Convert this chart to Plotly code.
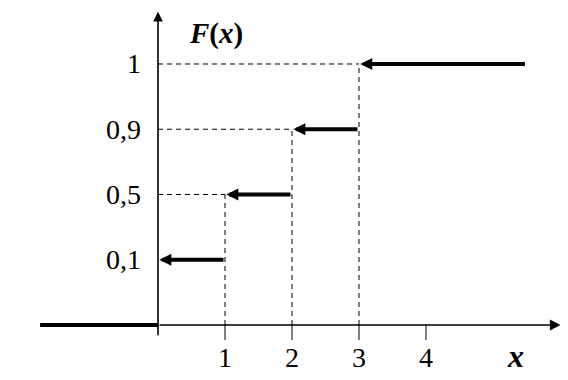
import plotly.graph_objects as go

# ---- data ----
step_left = [0, 1, 2, 3]          # x where each step starts (arrow head)
step_right = [1, 2, 3, 5.5]       # x where each step ends
F_values = [0.1, 0.5, 0.9, 1.0]   # F(x) on each step
zero_left = -1.76                 # F(x)=0 for x<0 drawn from here to 0
x_ticks = [1, 2, 3, 4]
x_tick_labels = ["1", "2", "3", "4"]
y_ticks = [0.1, 0.5, 0.9, 1.0]
y_tick_labels = ["0,1", "0,5", "0,9", "1"]

# the original figure is schematic (levels not to scale): use an ordinal F axis
levels = ["0"] + y_tick_labels
lab = dict(zip([0.0] + y_ticks, levels))
idx = {v: levels.index(lab[v]) for v in [0.0] + y_ticks}

FONT = "Liberation Serif"
DASH = dict(color="black", width=1, dash="5px,4px")
fig = go.Figure()

# dashed guide lines
for xs, fv in zip(step_left[1:], F_values[1:]):
    fig.add_trace(go.Scatter(x=[0, xs], y=[lab[fv], lab[fv]], mode="lines", line=DASH,
                             hoverinfo="skip", showlegend=False))
    fig.add_trace(go.Scatter(x=[xs, xs], y=[lab[0.0], lab[fv]], mode="lines", line=DASH,
                             hoverinfo="skip", showlegend=False))

# F=0 for x<0
fig.add_trace(go.Scatter(x=[zero_left, 0], y=[lab[0.0], lab[0.0]], mode="lines",
                         line=dict(color="black", width=4),
                         hoverinfo="skip", showlegend=False))

shapes = []
# x tick marks below the axis
for xt in x_ticks:
    shapes.append(dict(type="line", xref="x", yref="y", x0=xt, x1=xt,
                       y0=idx[0.0], y1=idx[0.0] - 0.23,
                       line=dict(color="black", width=1)))

annotations = []
# axes with arrows
annotations.append(dict(x=6.01, y=idx[0.0], ax=0, ay=idx[0.0], xref="x", yref="y",
                        axref="x", ayref="y", text="", showarrow=True, arrowhead=2,
                        arrowsize=1.35, arrowwidth=1.6, arrowcolor="black", standoff=0))
annotations.append(dict(x=0, y=4.80, ax=0, ay=idx[0.0] - 0.18, xref="x", yref="y",
                        axref="x", ayref="y", text="", showarrow=True, arrowhead=2,
                        arrowsize=1.2, arrowwidth=1.6, arrowcolor="black", standoff=0))
# steps with arrow heads at their left ends
for xl, xr, fv in zip(step_left, step_right, F_values):
    annotations.append(dict(x=xl + 0.02, y=idx[fv], ax=xr, ay=idx[fv], xref="x", yref="y",
                            axref="x", ayref="y", text="", showarrow=True,
                            arrowhead=2, arrowsize=0.6, arrowwidth=4,
                            arrowcolor="black", standoff=0))
# tick labels
for yt, tl in zip(y_ticks, y_tick_labels):
    annotations.append(dict(x=0, y=idx[yt], xref="x", yref="y", text=tl, showarrow=False,
                            xanchor="right", yanchor="middle", xshift=-15,
                            font=dict(family=FONT, size=28, color="black")))
for xt, tl in zip(x_ticks, x_tick_labels):
    annotations.append(dict(x=xt, y=idx[0.0], xref="x", yref="y", text=tl, showarrow=False,
                            xanchor="center", yanchor="middle", yshift=-32,
                            font=dict(family=FONT, size=28, color="black")))
# axis titles
annotations.append(dict(x=0.87, y=idx[0.0], xref="x", yref="y",
                        text="<b><i>F</i>(<i>x</i>)</b>", yshift=292,
                        showarrow=False, xanchor="center", yanchor="middle",
                        font=dict(family=FONT, size=29, color="black")))
annotations.append(dict(x=5.34, y=idx[0.0], xref="x", yref="y", text="<b><i>x</i></b>",
                        yshift=-31, showarrow=False, xanchor="center", yanchor="middle",
                        font=dict(family=FONT, size=32, color="black")))

fig.update_layout(
    width=568, height=380,
    margin=dict(l=0, r=0, t=0, b=0),
    paper_bgcolor="white", plot_bgcolor="white",
    xaxis=dict(range=[-2.239, 6.239], visible=False, fixedrange=True),
    yaxis=dict(type="category", categoryorder="array", categoryarray=levels,
               range=[-0.9655, 4.858], visible=False, fixedrange=True),
    shapes=shapes,
    annotations=annotations,
    showlegend=False,
)

fig.write_html("out.html")
